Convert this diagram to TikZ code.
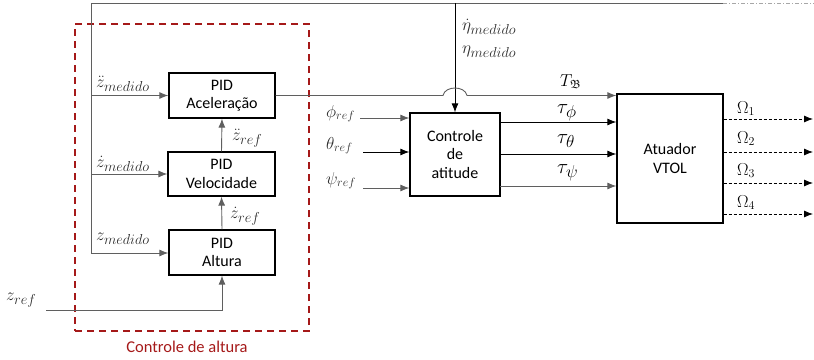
\documentclass[tikz,border=0pt]{standalone}
\usepackage{amsmath,amssymb}
\usepackage{fontspec}
\setmainfont{Carlito}
\usetikzlibrary{arrows.meta,calc}
\definecolor{wirec}{RGB}{95,95,95}
\definecolor{dred}{RGB}{165,25,25}
\definecolor{lblc}{RGB}{45,45,45}
\newcommand{\sbt}[2]{\text{\fontsize{#1}{#1}\selectfont$#2$}}
\begin{document}
\begin{tikzpicture}[x=1pt,y=-1pt,
  blk/.style={draw=black,line width=1.3pt,font=\fontsize{16}{18.5}\selectfont,align=center,inner sep=0pt},
  wire/.style={draw=wirec,line width=0.9pt},
  bwire/.style={draw=black,line width=0.9pt},
  arr/.style={-{Latex[length=9pt,width=7pt]}},
  ml/.style={font=\fontsize{16}{18}\selectfont,text=lblc,inner sep=0pt,anchor=base west},
  al/.style={font=\fontsize{18}{20}\selectfont,text=lblc,inner sep=0pt,anchor=base west},
  tl/.style={font=\fontsize{20}{22}\selectfont,text=black,inner sep=0pt,anchor=base west},
  ol/.style={font=\fontsize{17}{19}\selectfont,text=black,inner sep=0pt,anchor=base west}]
\useasboundingbox (0,0) rectangle (814,359);

% red dashed group
\node[draw=dred,line width=1.4pt,dash pattern=on 7pt off 5pt,minimum width=234pt,minimum height=307pt,inner sep=0pt] (grp) at (192,177.5) {};
\node[text=dred,font=\fontsize{16.5}{19}\selectfont,inner sep=0pt] (grpl) at (187,347) {Controle de altura};

% blocks
\node[blk,minimum width=106pt,minimum height=45pt] (acc) at (222,95.5) {PID\\Aceleração};
\node[blk,minimum width=107pt,minimum height=44pt] (vel) at (221.5,174) {PID\\Velocidade};
\node[blk,minimum width=106pt,minimum height=45pt] (alt) at (222,252.5) {PID\\Altura};
\node[blk,minimum width=90pt,minimum height=83pt] (att) at (455,154.5) {Controle\\de\\atitude};
\node[blk,minimum width=106pt,minimum height=129pt] (act) at (670,158.5) {Atuador\\VTOL};

% feedback bus
\coordinate (tl) at (91,3);
\coordinate (tm) at (455,3);
\coordinate (tr) at (723,3);
\coordinate (te) at (814,3);
\coordinate (bl) at (91,253);
\draw[wire] (bl) -- (tl) -- (tr);
\draw[draw=wirec!55,line width=0.7pt,dash pattern=on 4pt off 2pt on 1pt off 2pt] (tr) -- (te);
\draw[bwire,arr] (tm) -- (att.north);
\draw[wire,arr] (tl |- acc.west) -- (acc.west);
\draw[wire,arr] (tl |- vel.west) -- (vel.west);
\draw[wire,arr] (bl) -- (bl -| alt.west);

% cascade
\draw[wire,arr] (alt.north) -- (vel.south);
\draw[wire,arr] (vel.north) -- (acc.south);
\coordinate (zr) at (46,310);
\draw[wire,arr] (zr) -| (alt.south);

% thrust line with jump
\coordinate (jl) at ($(tm |- acc.east)+(-12,0)$);
\coordinate (jr) at ($(tm |- acc.east)+(12,0)$);
\draw[wire,arr] (acc.east) -- (jl) .. controls ($(jl)+(2,-10)$) and ($(jr)+(-2,-10)$) .. (jr) -- (act.west |- acc.east);

% attitude inputs
\coordinate (iphi) at (360,118);
\coordinate (ithe) at (363,152);
\coordinate (ipsi) at (363,188);
\draw[wire,arr] (iphi) -- (iphi -| att.west);
\draw[bwire,arr] (ithe) -- (ithe -| att.west);
\draw[wire,arr] (ipsi) -- (ipsi -| att.west);

% attitude outputs
\coordinate (o1) at (500,122);
\coordinate (o2) at (500,154);
\coordinate (o3) at (500,186);
\draw[bwire,arr] (o1) -- (o1 -| act.west);
\draw[bwire,arr] (o2) -- (o2 -| act.west);
\draw[wire,arr] (o3) -- (o3 -| act.west);

% rotor outputs
\coordinate (w1) at (813,119);
\coordinate (w2) at (813,152);
\coordinate (w3) at (813,183);
\coordinate (w4) at (813,214);
\foreach \w in {w1,w2,w3,w4}
  \draw[bwire,line width=0.8pt,dash pattern=on 3pt off 2pt,-{Latex[length=9pt,width=7pt]}] (\w -| act.east) -- (\w);

% labels
\node[ml] (l1) at (96,87) {$\ddot{z}_{\sbt{14}{medido}}$};
\node[ml] (l2) at (96,167) {$\dot{z}_{\sbt{14}{medido}}$};
\node[ml] (l3) at (96,240) {$z_{\sbt{14}{medido}}$};
\node[ml] (l4) at (232,140) {$\ddot{z}_{\sbt{14}{ref}}$};
\node[ml] (l5) at (230,218) {$\dot{z}_{\sbt{14}{ref}}$};
\node[ml] (l6) at (6,300) {$z_{\sbt{14}{ref}}$};
\node[ml] (l7) at (462,30) {$\dot{\eta}_{\sbt{14}{medido}}$};
\node[ml] (l8) at (462,53) {$\eta_{\sbt{14}{medido}}$};
\node[al] (l9) at (326,117) {$\phi_{\sbt{12}{ref}}$};
\node[al] (l10) at (326,149) {$\theta_{\sbt{12}{ref}}$};
\node[al] (l11) at (326,184) {$\psi_{\sbt{12}{ref}}$};
\node[ol] (t0) at (560,86) {$T_{\mathfrak{B}}$};
\node[tl] (t1) at (557,113) {$\tau_{\sbt{16}{\phi}}$};
\node[tl] (t2) at (557,143) {$\tau_{\sbt{16}{\theta}}$};
\node[tl] (t3) at (557,173) {$\tau_{\sbt{16}{\psi}}$};
\node[ol] (m1) at (737,113) {$\Omega_1$};
\node[ol] (m2) at (737,143) {$\Omega_2$};
\node[ol] (m3) at (737,175) {$\Omega_3$};
\node[ol] (m4) at (737,207) {$\Omega_4$};
\end{tikzpicture}
\end{document}
